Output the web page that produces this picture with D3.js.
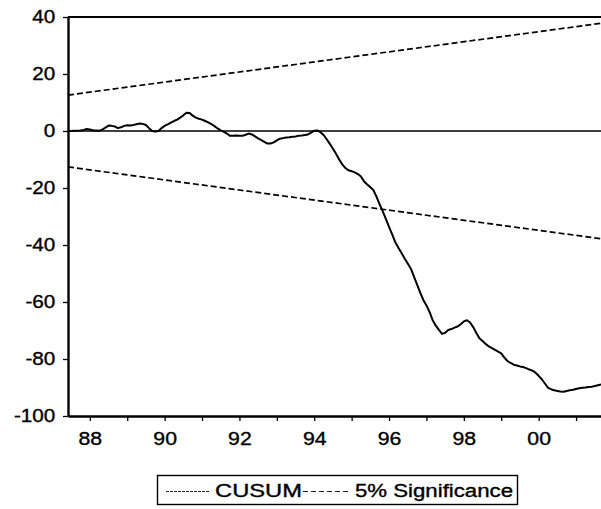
<!DOCTYPE html>
<html>
<head>
<meta charset="utf-8">
<script src="https://cdn.jsdelivr.net/npm/d3@7/dist/d3.min.js"></script>
<style>
  html, body { margin: 0; padding: 0; background: #fff; }
  svg { display: block; }
  text { font-family: "Liberation Sans", Arial, sans-serif; fill: #000; stroke: #000; stroke-width: 0.35px; }
</style>
</head>
<body>
<svg id="chart" width="601" height="509"></svg>
<script>
// Monthly CUSUM of recursive residuals, first observation 1987M06
const startYear = 1987;
const startMonth = 6;
const cusum = [
  0.0, 0.0, 0.1, 0.1, 0.2, 0.4, 0.7, 0.5, 0.3, 0.2,
  0.1, 0.5, 1.2, 1.9, 1.8, 1.6, 1.0, 1.3, 1.8, 2.0,
  1.9, 2.1, 2.4, 2.6, 2.5, 2.1, 1.0, 0.0, -0.2, 0.0,
  1.0, 1.8, 2.3, 2.9, 3.5, 4.0, 4.7, 5.5, 6.4, 6.3,
  5.4, 4.7, 4.3, 4.0, 3.5, 3.0, 2.4, 1.7, 0.9, 0.2,
  -0.3, -0.9, -1.7, -1.7, -1.6, -1.7, -1.7, -1.3, -0.9, -1.2,
  -1.9, -2.6, -3.2, -3.8, -4.4, -4.4, -4.0, -3.3, -2.7, -2.5,
  -2.3, -2.2, -2.0, -1.9, -1.7, -1.6, -1.4, -1.2, -0.6, 0.1,
  0.2, -0.4, -1.4, -2.9, -4.5, -6.2, -8.0, -10.0, -11.7, -13.0,
  -13.8, -14.1, -14.5, -15.1, -16.0, -17.7, -18.8, -19.7, -20.8, -23.1,
  -25.8, -28.2, -30.9, -33.6, -36.3, -39.0, -41.0, -42.8, -44.7, -46.5,
  -48.3, -51.1, -53.9, -56.7, -59.3, -61.2, -63.5, -66.4, -68.3, -69.8,
  -71.2, -70.8, -69.8, -69.5, -69.0, -68.6, -67.8, -66.8, -66.4, -67.2,
  -68.8, -70.9, -72.7, -73.7, -74.7, -75.6, -76.2, -76.8, -77.4, -78.0,
  -79.5, -80.7, -81.4, -82.0, -82.3, -82.6, -82.8, -83.2, -83.7, -84.1,
  -84.8, -85.9, -87.1, -88.6, -90.1, -90.6, -91.0, -91.2, -91.4, -91.5,
  -91.2, -91.0, -90.8, -90.5, -90.3, -90.1, -90.0, -89.8, -89.7, -89.5,
  -89.2, -88.9
];
// 5% significance bounds at the first and last observation
const upperBound = [12.6, 37.8];
const lowerBound = [-12.6, -37.8];
const yTicks = [-100, -80, -60, -40, -20, 0, 20, 40];
const xTickYears = [1988, 1989, 1990, 1991, 1992, 1993, 1994, 1995, 1996, 1997, 1998, 1999, 2000, 2001];
const legendLabels = ["CUSUM", "5% Significance"];

const toYear = i => startYear + (startMonth - 1 + i) / 12;
const n = cusum.length;

const margin = { left: 68, right: 601, top: 17, bottom: 416 };
const svg = d3.select("#chart");

const x = d3.scaleLinear()
  .domain([toYear(0), toYear(n - 1)])
  .range([margin.left, margin.right]);
const y = d3.scaleLinear()
  .domain([-100, 40])
  .range([margin.bottom, margin.top]);

svg.append("defs").append("clipPath").attr("id", "plot")
  .append("rect")
  .attr("x", margin.left).attr("y", margin.top)
  .attr("width", margin.right - margin.left)
  .attr("height", margin.bottom - margin.top);

const plot = svg.append("g").attr("clip-path", "url(#plot)");

// zero reference line
plot.append("line")
  .attr("x1", margin.left).attr("x2", margin.right)
  .attr("y1", y(0)).attr("y2", y(0))
  .attr("stroke", "#000").attr("stroke-width", 1.6);

// significance bounds
const boundLine = d3.line().x(d => x(d[0])).y(d => y(d[1]));
[upperBound, lowerBound].forEach(b => {
  plot.append("path")
    .attr("d", boundLine([[toYear(0), b[0]], [toYear(n - 1), b[1]]]))
    .attr("fill", "none")
    .attr("stroke", "#000")
    .attr("stroke-width", 1.7)
    .attr("stroke-dasharray", "6,3");
});

// CUSUM
const cusumLine = d3.line()
  .x((d, i) => x(toYear(i)))
  .y(d => y(d));
plot.append("path")
  .attr("d", cusumLine(cusum))
  .attr("fill", "none")
  .attr("stroke", "#000")
  .attr("stroke-width", 2)
  .attr("stroke-linejoin", "round");

// top border
svg.append("line")
  .attr("x1", margin.left).attr("x2", margin.right)
  .attr("y1", margin.top).attr("y2", margin.top)
  .attr("stroke", "#000").attr("stroke-width", 2);

// y axis
const yAxis = svg.append("g")
  .attr("transform", `translate(${margin.left},0)`)
  .call(d3.axisLeft(y).tickValues(yTicks).tickSize(5).tickSizeOuter(0).tickPadding(6)
    .tickFormat(d => d3.format("d")(d).replace("\u2212", "-")));
yAxis.select(".domain").attr("stroke-width", 2.4);
yAxis.selectAll(".tick line").attr("stroke-width", 1.3);
yAxis.selectAll("text")
  .attr("font-size", 18)
  .attr("transform", "scale(1.15,1)");

// x axis
const xAxis = svg.append("g")
  .attr("transform", `translate(0,${margin.bottom})`)
  .call(d3.axisBottom(x).tickValues(xTickYears).tickSize(5).tickSizeOuter(0).tickPadding(11)
    .tickFormat(d => d % 2 === 0 ? String(d % 100).padStart(2, "0") : ""));
xAxis.select(".domain").attr("stroke-width", 2.4);
xAxis.selectAll(".tick line").attr("stroke-width", 1.3);
xAxis.selectAll("text")
  .attr("font-size", 19)
  .attr("transform", "scale(1.12,1)");

// legend
const legend = svg.append("g");
legend.append("rect")
  .attr("x", 157.5).attr("y", 475.5)
  .attr("width", 360).attr("height", 29)
  .attr("fill", "#fff").attr("stroke", "#000").attr("stroke-width", 1.4);
legend.append("line")
  .attr("x1", 166).attr("x2", 209).attr("y1", 491.5).attr("y2", 491.5)
  .attr("stroke", "#222").attr("stroke-width", 1).attr("stroke-dasharray", "3,1");
legend.append("text")
  .attr("x", 215).attr("y", 497)
  .attr("font-size", 18)
  .attr("textLength", 87).attr("lengthAdjust", "spacingAndGlyphs")
  .text(legendLabels[0]);
legend.append("line")
  .attr("x1", 303).attr("x2", 349).attr("y1", 491.5).attr("y2", 491.5)
  .attr("stroke", "#222").attr("stroke-width", 1).attr("stroke-dasharray", "5,3");
legend.append("text")
  .attr("x", 355).attr("y", 497)
  .attr("font-size", 18)
  .attr("textLength", 158).attr("lengthAdjust", "spacingAndGlyphs")
  .text(legendLabels[1]);
</script>
</body>
</html>
